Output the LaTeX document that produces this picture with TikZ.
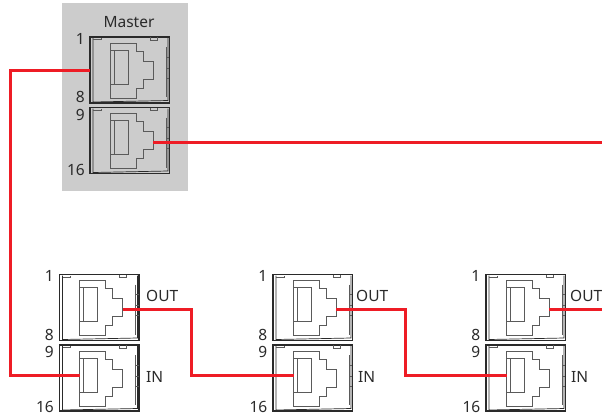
\documentclass[tikz,border=0pt]{standalone}
\usepackage{fontspec}
\setmainfont{Noto Sans}
\definecolor{wirered}{HTML}{EE1C25}
\definecolor{panelgray}{HTML}{CCCCCC}
\definecolor{jackgray}{HTML}{5A5A5A}
\definecolor{portdark}{HTML}{2A2A2A}
\tikzset{
  wire/.style={wirered,line width=3pt,line join=miter},
  lbl/.style={portdark,font=\fontsize{15.5}{17}\selectfont,inner sep=0pt},
  port/.pic={
    \draw[portdark,line width=1.2pt] (0,0) rectangle (79.5,66);
    \draw[portdark,line width=.7pt] (3,1) -- (3,65) -- (78,63.5) -- (78,1);
    \draw[jackgray,line width=.8pt] (3,2.5) -- (11,2.5) -- (11,1) (60,0) -- (60,3) -- (67,3) -- (67,0);
    \draw[jackgray,line width=.9pt] (76,10) -- (76,60) (76,20) -- (79,20) (76,31) -- (79,31) (76,41) -- (79,41);
    \draw[jackgray,line width=1pt] (20,6) -- (46,6) -- (46,14) -- (53,14) -- (53,24) -- (63,24) -- (63,42) -- (53,42) -- (53,51) -- (46,51) -- (46,61) -- (20,61) -- cycle;
    \draw[jackgray,line width=1pt] (20,13) rectangle (38,47) (24,13) -- (24,47);
    \coordinate (-left) at (0,33);
    \coordinate (-out) at (63,34.5);
    \coordinate (-in) at (20.5,30);
  }
}
\begin{document}
\begin{tikzpicture}[x=1pt,y=-1pt]
  \useasboundingbox (0,0) rectangle (602,416);
  \fill[panelgray] (62,3) rectangle (188,191);

  \pic (mA) at (90,37) {port};
  \pic (mB) at (90,107.5) {port};
  \pic (sA) at (59.5,274.5) {port};
  \pic (sB) at (59.5,345) {port};
  \pic (sC) at (273,274.5) {port};
  \pic (sD) at (273,345) {port};
  \pic (sE) at (486,274.5) {port};
  \pic (sF) at (486,345) {port};

  \node[lbl] (master) at (129,22) {Master};
  \node[lbl,anchor=east] (mA1) at (85,38.5) {1};
  \node[lbl,anchor=east] (mA8) at (85,97) {8};
  \node[lbl,anchor=east] (mB9) at (85,115) {9};
  \node[lbl,anchor=east] (mB16) at (85,170) {16};
  \foreach \nm/\x in {sA/54,sC/267.5,sE/480.5}{
    \node[lbl,anchor=east] (\nm1) at (\x,275.5) {1};
    \node[lbl,anchor=east] (\nm8) at (\x,335) {8};
    \node[lbl,anchor=east] (\nm9) at (\x,352) {9};
    \node[lbl,anchor=east] (\nm16) at (\x,406.5) {16};
  }
  \node[lbl,anchor=west] (outA) at (146,296) {OUT};
  \node[lbl,anchor=west] (outB) at (356,296) {OUT};
  \node[lbl,anchor=west] (outC) at (570,296) {OUT};
  \node[lbl,anchor=west] (inA) at (146,377) {IN};
  \node[lbl,anchor=west] (inB) at (358,377) {IN};
  \node[lbl,anchor=west] (inC) at (571,377) {IN};

  \coordinate (busL) at (10,200);
  \coordinate (turnA) at (191,340);
  \coordinate (turnB) at (405,340);
  \coordinate (endA) at (602,142);
  \coordinate (endB) at (602,309);

  \draw[wire] (mA-left) -| (busL) |- (sB-in);
  \draw[wire] (mB-out) -- (endA);
  \draw[wire] (sA-out) -| (turnA) |- (sD-in);
  \draw[wire] (sC-out) -| (turnB) |- (sF-in);
  \draw[wire] (sE-out) -- (endB);
\end{tikzpicture}
\end{document}
